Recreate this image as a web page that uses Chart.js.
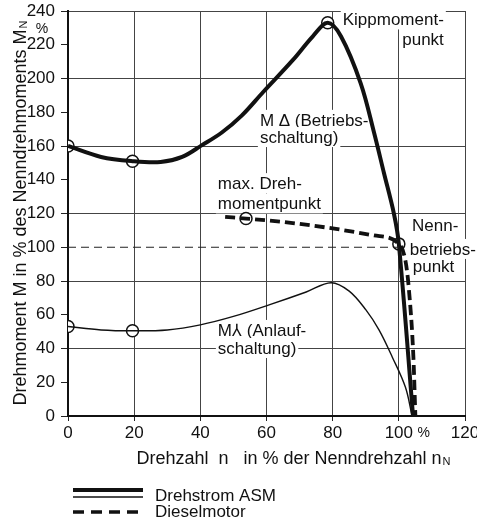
<!DOCTYPE html>
<html>
<head>
<meta charset="utf-8">
<script src="https://cdn.jsdelivr.net/npm/chart.js@4.4.1/dist/chart.umd.min.js"></script>
<style>
  html,body{margin:0;padding:0;background:#fff;}
  #wrap{width:477px;height:526px;}
</style>
</head>
<body>
<div id="wrap"><canvas id="torqueChart" width="477" height="526"></canvas></div>
<script>
// Drehzahl n in % / Drehmoment M in %
const speedDelta  = [0, 10, 19.5, 28, 34.5, 40.5, 46.5, 52.5, 59, 68, 74, 78.5, 82.5, 88.5, 92.5, 95.5, 98.5, 100, 104.3];
const torqueDelta = [160, 153.5, 151, 150.5, 153.5, 160.5, 168, 178, 192, 211, 225, 233, 225, 197, 168, 144, 120, 102, 0];

const speedStar  = [0, 10, 19.5, 30, 40, 50, 61, 72, 79.5, 85, 90, 94, 98, 102, 104];
const torqueStar = [53, 51, 50.5, 51, 54, 59, 66, 73.5, 79, 74, 63, 51, 35, 17, 0];

const speedDiesel  = [47.5, 53.8, 65, 80.5, 92.5, 100, 102, 103, 104.4, 105];
const torqueDiesel = [118, 117, 115, 111, 107, 102, 92, 76, 35, 0];

const nominalSpeed  = [0, 100];
const nominalTorque = [100, 100];

// open circles
const markSpeed  = [0, 19.5, 78.5, 100, 0, 19.5, 53.8];
const markTorque = [160, 151, 233, 102, 53, 50.5, 117];

const xTicks = [0, 20, 40, 60, 80, 100, 120];
const yTicks = [0, 20, 40, 60, 80, 100, 120, 140, 160, 180, 200, 220, 240];

// text in the plot (x / y in data units)
const notes = [
  {text:"Kippmoment-", x:113.6, y:235, align:"right"},
  {text:"punkt", x:113.6, y:223, align:"right"},
  {text:"M \u0394 (Betriebs-", x:58, y:175.5},
  {text:"schaltung)", x:58, y:165.3},
  {text:"max. Dreh-", x:45.3, y:138},
  {text:"momentpunkt", x:45.3, y:126},
  {text:"Nenn-", x:104, y:113},
  {text:"betriebs-", x:103.3, y:99},
  {text:"punkt", x:104.2, y:89},
  {text:"M\u2144 (Anlauf-", x:45.3, y:51},
  {text:"schaltung)", x:45.3, y:40.3}
];

const FONT = '"Liberation Sans", Arial, sans-serif';
const pts = (xs, ys) => xs.map((v,i)=>({x:v, y:ys[i]}));

const textPlugin = {
  id: "texts",
  beforeDatasetsDraw(chart){
    const {ctx, scales:{x, y}} = chart;
    ctx.save();
    ctx.font = "17px " + FONT;
    ctx.textBaseline = "middle";
    ctx.textAlign = "left";
    notes.forEach(n=>{
      const px = x.getPixelForValue(n.x), py = y.getPixelForValue(n.y);
      const w = ctx.measureText(n.text).width;
      const left = n.align==="right" ? px - w : px;
      ctx.fillStyle = "#fff";
      ctx.fillRect(left-2, py-10, w+4, 20);
      ctx.fillStyle = "#111";
      ctx.fillText(n.text, left, py+1);
    });
    ctx.restore();
  },
  afterDraw(chart){
    const {ctx, chartArea:a, scales:{x, y}} = chart;
    ctx.save();
    ctx.fillStyle = "#111";
    ctx.textBaseline = "middle";

    // little % signs on the axes
    ctx.font = "14px " + FONT;
    ctx.textAlign = "center";
    ctx.fillText("%", a.left - 26, y.getPixelForValue(229));
    ctx.fillText("%", x.getPixelForValue(107.5), a.bottom + 17);

    // x title
    const xMain = "Drehzahl  n   in % der Nenndrehzahl n";
    ctx.font = "18px " + FONT;
    let w1 = ctx.measureText(xMain).width;
    ctx.font = "11px " + FONT;
    let w2 = ctx.measureText("N").width;
    let cx = x.getPixelForValue(68), cy = a.bottom + 43;
    ctx.textAlign = "left";
    ctx.font = "18px " + FONT;
    ctx.fillText(xMain, cx - (w1+w2)/2, cy);
    ctx.font = "11px " + FONT;
    ctx.fillText("N", cx - (w1+w2)/2 + w1 + 1, cy + 3);

    // y title
    const yMain = "Drehmoment M in % des Nenndrehmoments M";
    ctx.translate(21, (a.top + a.bottom)/2);
    ctx.rotate(-Math.PI/2);
    ctx.font = "18px " + FONT;
    w1 = ctx.measureText(yMain).width;
    ctx.fillText(yMain, -(w1+w2)/2, 0);
    ctx.font = "11px " + FONT;
    ctx.fillText("N", -(w1+w2)/2 + w1 + 1, 3);
    ctx.setTransform(1,0,0,1,0,0);

    // legend
    const lx = a.left + 5, lw = 70;
    ctx.strokeStyle = "#111";
    ctx.lineWidth = 4;
    ctx.beginPath(); ctx.moveTo(lx, a.bottom+74); ctx.lineTo(lx+lw, a.bottom+74); ctx.stroke();
    ctx.lineWidth = 1.3;
    ctx.beginPath(); ctx.moveTo(lx, a.bottom+81); ctx.lineTo(lx+lw, a.bottom+81); ctx.stroke();
    ctx.lineWidth = 3.5;
    ctx.setLineDash([11,7]);
    ctx.beginPath(); ctx.moveTo(lx, a.bottom+96); ctx.lineTo(lx+lw, a.bottom+96); ctx.stroke();
    ctx.setLineDash([]);
    ctx.font = "17px " + FONT;
    ctx.fillText("Drehstrom ASM", lx + 82, a.bottom + 80);
    ctx.fillText("Dieselmotor", lx + 82, a.bottom + 96);
    ctx.restore();
  }
};

const ctx = document.getElementById("torqueChart").getContext("2d");
new Chart(ctx, {
  type: "line",
  data: {
    datasets: [
      {label:"Nennmoment", data:pts(nominalSpeed, nominalTorque), borderColor:"#222", borderWidth:1.2, borderDash:[8,5], pointRadius:0},
      {label:"M Delta", data:pts(speedDelta, torqueDelta), borderColor:"#111", borderWidth:4, pointRadius:0, tension:0.35},
      {label:"M Stern", data:pts(speedStar, torqueStar), borderColor:"#111", borderWidth:1.4, pointRadius:0, tension:0.35},
      {label:"Dieselmotor", data:pts(speedDiesel, torqueDiesel), borderColor:"#111", borderWidth:3.8, borderDash:[10,5], pointRadius:0, cubicInterpolationMode:"monotone"},
      {label:"Punkte", data:pts(markSpeed, markTorque), showLine:false, pointRadius:6, pointBackgroundColor:"#fff", pointBorderColor:"#111", pointBorderWidth:1.5}
    ]
  },
  options: {
    responsive: false,
    animation: false,
    layout: {padding:{left:0, top:11, right:12, bottom:0}},
    plugins: {legend:{display:false}, tooltip:{enabled:false}},
    scales: {
      x: {
        type: "linear", min: 0, max: 120,
        afterBuildTicks: s => { s.ticks = xTicks.map(v=>({value:v})); },
        afterFit: s => { s.height = 110; s.paddingLeft = 0; s.paddingRight = 0; },
        ticks: {color:"#111", font:{family:FONT, size:17}, padding:2, maxRotation:0},
        grid: {color:"#444", lineWidth:1, tickLength:5, tickColor:"#222"},
        border: {color:"#111", width:2}
      },
      y: {
        type: "linear", min: 0, max: 240,
        afterBuildTicks: s => { s.ticks = yTicks.map(v=>({value:v})); },
        afterFit: s => { s.width = 68; s.paddingTop = 0; s.paddingBottom = 0; },
        ticks: {color:"#111", font:{family:FONT, size:17}, padding:6},
        grid: {
          color: c => (c.tick && c.tick.value % 40 === 0) ? "#444" : "rgba(0,0,0,0)",
          lineWidth:1, tickLength:7, tickColor:"#222"
        },
        border: {color:"#111", width:2}
      }
    }
  },
  plugins: [textPlugin]
});
</script>
</body>
</html>
